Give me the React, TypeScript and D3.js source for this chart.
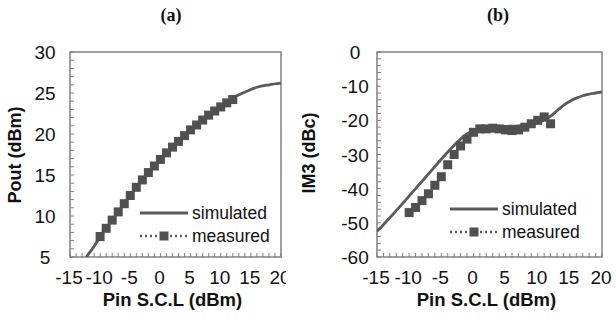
import * as d3 from 'd3';
import * as React from 'react';

// panel (a): output power
const simXa = [-12.3, -11, -10, -8, -6, -4, -2, 0, 2, 4, 6, 8, 10, 12, 14, 16, 18, 20];
const simYa = [5.0, 6.3, 7.5, 9.5, 11.5, 13.5, 15.3, 16.9, 18.4, 19.8, 21.1, 22.3, 23.4, 24.4, 25.1, 25.7, 26.0, 26.2];
const measXa = [-10, -9, -8, -7, -6, -5, -4, -3, -2, -1, 0, 1, 2, 3, 4, 5, 6, 7, 8, 9, 10, 11, 12];
const measYa = [7.5, 8.5, 9.5, 10.5, 11.5, 12.5, 13.5, 14.4, 15.3, 16.1, 16.9, 17.7, 18.4, 19.1, 19.8, 20.5, 21.1, 21.7, 22.3, 22.8, 23.3, 23.8, 24.2];

// panel (b): IM3
const simXb = [-15, -13, -11, -9, -7, -5, -3, -2, -1, 0, 1, 2, 4, 6, 8, 10, 11, 12, 13, 14, 15, 16, 17, 18, 19, 20];
const simYb = [-52.5, -48.5, -44.3, -40, -35.7, -31.4, -27.3, -25.5, -24, -23, -22.4, -22.1, -21.8, -21.7, -21.5, -20.7, -20, -18.8, -17.2, -15.6, -14.4, -13.5, -12.8, -12.3, -12.0, -11.7];
const measXb = [-10, -9, -8, -7, -6, -5, -4, -3, -2, -1, 0, 1, 2, 3, 4, 5, 6, 7, 8, 9, 10, 11, 12];
const measYb = [-47, -45.5, -43.5, -41.5, -39, -36.5, -33, -30, -27.5, -25.5, -23.5, -22.5, -22.5, -22.3, -22.5, -22.8, -23, -22.8, -22, -21, -20, -19, -21];

const xTicks = [-15, -10, -5, 0, 5, 10, 15, 20];
const yTicksA = [5, 10, 15, 20, 25, 30];
const yTicksB = [-60, -50, -40, -30, -20, -10, 0];

const LINE = '#5a5a5a';
const MARK = '#505050';
const FRAME = '#808080';
const SANS = 'Liberation Sans, Arial, sans-serif';

const App = () => {
  const ref = React.useRef<SVGSVGElement | null>(null);

  React.useEffect(() => {
    const svg = d3.select(ref.current);
    svg.selectAll('*').remove();

    // the left figure is cropped just past its last tick label
    svg.append('defs').append('clipPath').attr('id', 'clipA').append('rect').attr('x', 0).attr('y', 0).attr('width', 286).attr('height', 320);

    const drawPanel = (opts) => {
      const g = svg.append('g');
      if (opts.clip) g.attr('clip-path', `url(#${opts.clip})`);
      const x = d3.scaleLinear().domain([-15, 20]).range([opts.left, opts.right]);
      const y = d3.scaleLinear().domain(opts.yDomain).range([257, 52]);

      // minor ticks inside the frame
      d3.range(-15, 21, 1).forEach((v) => {
        g.append('line').attr('x1', x(v)).attr('x2', x(v)).attr('y1', 257).attr('y2', 253).attr('stroke', FRAME).attr('stroke-width', 1);
      });
      d3.range(opts.yDomain[0], opts.yDomain[1] + 0.01, opts.yMinor).forEach((v) => {
        g.append('line').attr('x1', opts.left).attr('x2', opts.left + 4).attr('y1', y(v)).attr('y2', y(v)).attr('stroke', FRAME).attr('stroke-width', 1);
      });

      g.append('rect').attr('x', opts.left).attr('y', 52).attr('width', opts.right - opts.left).attr('height', 205).attr('fill', 'none').attr('stroke', FRAME).attr('stroke-width', 1.5);

      const plot = g.append('g');
      plot.append('defs').append('clipPath').attr('id', `${opts.id}-plot`).append('rect').attr('x', opts.left).attr('y', 52).attr('width', opts.right - opts.left).attr('height', 205);
      const inner = plot.append('g').attr('clip-path', `url(#${opts.id}-plot)`);

      const line = d3.line<number>().x((d, i) => x(opts.simX[i])).y((d) => y(d)).curve(d3.curveMonotoneX);
      inner.append('path').attr('d', line(opts.simY)).attr('fill', 'none').attr('stroke', LINE).attr('stroke-width', 2.8);

      g.selectAll('.m')
        .data(opts.measY)
        .enter()
        .append('rect')
        .attr('x', (d, i) => x(opts.measX[i]) - 4.5)
        .attr('y', (d) => y(d) - 4.5)
        .attr('width', 9)
        .attr('height', 9)
        .attr('fill', MARK);

      xTicks.forEach((v) => {
        g.append('text').attr('x', x(v) - 1).attr('y', 284).attr('text-anchor', 'middle').style('font-family', SANS).style('font-size', '19px').style('fill', '#111').text(v);
      });
      opts.yTicks.forEach((v) => {
        g.append('text').attr('x', opts.labelX).attr('y', y(v) + 7).attr('text-anchor', 'middle').style('font-family', SANS).style('font-size', '19px').style('fill', '#111').text(v);
      });

      g.append('text').attr('x', (opts.left + opts.right) / 2 - 3).attr('y', 306).attr('text-anchor', 'middle').style('font-family', SANS).style('font-size', '18.5px').style('font-weight', 'bold').style('fill', '#111').text('Pin S.C.L (dBm)');
      g.append('text')
        .attr('transform', `translate(${opts.titleX},${opts.titleY}) rotate(-90)`)
        .attr('text-anchor', 'middle')
        .style('font-family', SANS)
        .style('font-size', '18px')
        .style('font-weight', 'bold')
        .style('fill', '#111')
        .text(opts.yTitle);

      g.append('text').attr('x', opts.panelX).attr('y', 21).attr('text-anchor', 'middle').style('font-family', 'Liberation Serif, Times New Roman, serif').style('font-size', '18px').style('font-weight', 'bold').style('fill', '#111').text(opts.panel);

      // legend
      const lx = opts.legendX;
      const ly = opts.legendY;
      g.append('line').attr('x1', lx).attr('x2', lx + 48).attr('y1', ly).attr('y2', ly).attr('stroke', LINE).attr('stroke-width', 2.8);
      g.append('text').attr('x', lx + 52).attr('y', ly + 6).style('font-family', SANS).style('font-size', '17.5px').style('fill', '#111').text('simulated');
      g.append('line').attr('x1', lx).attr('x2', lx + 48).attr('y1', ly + 23).attr('y2', ly + 23).attr('stroke', LINE).attr('stroke-width', 2.5).attr('stroke-dasharray', '2,3');
      g.append('rect').attr('x', lx + 19.5).attr('y', ly + 18.5).attr('width', 9).attr('height', 9).attr('fill', MARK);
      g.append('text').attr('x', lx + 52).attr('y', ly + 29).style('font-family', SANS).style('font-size', '17.5px').style('fill', '#111').text('measured');
    };

    drawPanel({
      id: 'a',
      clip: 'clipA',
      left: 70,
      right: 281,
      yDomain: [5, 30],
      yMinor: 1,
      yTicks: yTicksA,
      simX: simXa,
      simY: simYa,
      measX: measXa,
      measY: measYa,
      labelX: 45,
      titleX: 21,
      titleY: 155,
      yTitle: 'Pout (dBm)',
      panel: '(a)',
      panelX: 171,
      legendX: 140,
      legendY: 213,
    });

    drawPanel({
      id: 'b',
      clip: null,
      left: 377,
      right: 602,
      yDomain: [-60, 0],
      yMinor: 2,
      yTicks: yTicksB,
      simX: simXb,
      simY: simYb,
      measX: measXb,
      measY: measYb,
      labelX: 355,
      titleX: 315,
      titleY: 153,
      yTitle: 'IM3 (dBc)',
      panel: '(b)',
      panelX: 498,
      legendX: 450,
      legendY: 209,
    });
  }, []);

  return (
    <svg ref={ref} width={616} height={320} style={{ position: 'absolute', left: 0, top: 0, background: '#fff' }} />
  );
};

export default App;
